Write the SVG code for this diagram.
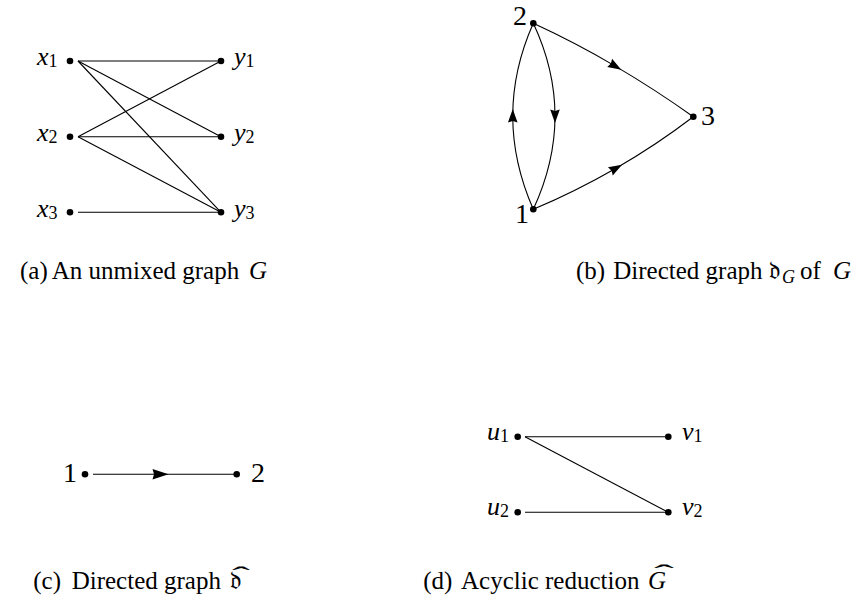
<svg xmlns="http://www.w3.org/2000/svg" width="867" height="601" viewBox="0 0 867 601">
<style>
  .edge { fill: none; stroke: #000; stroke-width: 1.1; }
  .dot { fill: #000; }
  .lbl { font-family: "Liberation Serif", "DejaVu Serif", serif; font-style: italic; font-size: 26px; fill: #000; }
  .sub { font-size: 18px; font-style: normal; }
  .num { font-family: "Liberation Serif", "DejaVu Serif", serif; font-size: 28px; fill: #000; }
  .cap { font-family: "Liberation Serif", "DejaVu Serif", "DejaVu Sans", serif; font-size: 25px; fill: #000; }
  .it { font-style: italic; }
  .hat { font-size: 24px; font-style: normal; }
</style>
<defs>
  <marker id="arr" markerUnits="userSpaceOnUse" viewBox="-8 -6 16 12" markerWidth="16" markerHeight="12" refX="0" refY="0" orient="auto">
    <path d="M-6.5,-4.8 L7,0 L-6.5,4.8 L-5,0 z" fill="#000"/>
  </marker>
  <marker id="arrc" markerUnits="userSpaceOnUse" viewBox="-9 -7 18 14" markerWidth="18" markerHeight="14" refX="0" refY="0" orient="auto">
    <path d="M-8,-5.3 L8,0 L-8,5.3 L-6.5,0 z" fill="#000"/>
  </marker>
</defs>

<!-- (a) unmixed graph G -->
<g id="edges-a">
  <path class="edge" d="M78,61 L221,61"/>
  <path class="edge" d="M78,61 L221,136.7"/>
  <path class="edge" d="M78,61 L221,212.3"/>
  <path class="edge" d="M78,136.7 L221,61"/>
  <path class="edge" d="M78,136.7 L221,136.7"/>
  <path class="edge" d="M78,136.7 L221,212.3"/>
  <path class="edge" d="M78,212.3 L221,212.3"/>
</g>
<g id="node-x1"><circle class="dot" cx="70" cy="61" r="3.3"/><text class="lbl" x="37" y="65">x<tspan class="sub" dy="2">1</tspan></text></g>
<g id="node-x2"><circle class="dot" cx="70" cy="136.7" r="3.3"/><text class="lbl" x="37" y="141">x<tspan class="sub" dy="2">2</tspan></text></g>
<g id="node-x3"><circle class="dot" cx="70" cy="212.3" r="3.3"/><text class="lbl" x="37" y="216.7">x<tspan class="sub" dy="2">3</tspan></text></g>
<g id="node-y1"><circle class="dot" cx="221" cy="61" r="3.3"/><text class="lbl" x="234" y="65">y<tspan class="sub" dy="2">1</tspan></text></g>
<g id="node-y2"><circle class="dot" cx="221" cy="136.7" r="3.3"/><text class="lbl" x="234" y="141">y<tspan class="sub" dy="2">2</tspan></text></g>
<g id="node-y3"><circle class="dot" cx="221" cy="212.3" r="3.3"/><text class="lbl" x="234" y="216.7">y<tspan class="sub" dy="2">3</tspan></text></g>

<!-- (b) directed graph -->
<g id="edges-b">
  <path class="edge" marker-mid="url(#arr)" d="M533.3,209.3 Q512.75,162.5 512.75,116 Q512.75,69.5 533.3,23.3"/>
  <path class="edge" marker-mid="url(#arr)" d="M533.3,23.3 Q555,69.5 555,116 Q555,162.5 533.3,209.3"/>
  <path class="edge" marker-mid="url(#arr)" d="M533.3,23.3 Q575.25,42.6 615.25,66.1 Q655.25,89.6 693.3,116.7"/>
  <path class="edge" marker-mid="url(#arr)" d="M533.3,209.3 Q576,191.2 616,168.2 Q656,145.2 693.3,116.7"/>
</g>
<g id="node-b2"><circle class="dot" cx="533.3" cy="23.3" r="3.3"/><text class="num" x="513" y="25">2</text></g>
<g id="node-b3"><circle class="dot" cx="693.3" cy="116.7" r="3.3"/><text class="num" x="701" y="125">3</text></g>
<g id="node-b1"><circle class="dot" cx="533.3" cy="209.3" r="3.3"/><text class="num" x="515" y="222.7">1</text></g>

<!-- (c) directed graph hat -->
<g id="edges-c">
  <path class="edge" marker-mid="url(#arrc)" d="M93,474.3 L160.5,474.3 L236.7,474.3"/>
</g>
<g id="node-c1"><circle class="dot" cx="85" cy="474.3" r="3.3"/><text class="num" x="63" y="481.7">1</text></g>
<g id="node-c2"><circle class="dot" cx="236.7" cy="474.3" r="3.3"/><text class="num" x="251" y="481.7">2</text></g>

<!-- (d) acyclic reduction -->
<g id="edges-d">
  <path class="edge" d="M525,436.7 L668.3,436.7"/>
  <path class="edge" d="M525,436.7 L668.3,512.3"/>
  <path class="edge" d="M525,512.3 L668.3,512.3"/>
</g>
<g id="node-u1"><circle class="dot" cx="517.7" cy="436.7" r="3.3"/><text class="lbl" x="487" y="439.5">u<tspan class="sub" dy="2">1</tspan></text></g>
<g id="node-u2"><circle class="dot" cx="517.7" cy="512.3" r="3.3"/><text class="lbl" x="487" y="515">u<tspan class="sub" dy="2">2</tspan></text></g>
<g id="node-v1"><circle class="dot" cx="668.3" cy="436.7" r="3.3"/><text class="lbl" x="682" y="439.5">v<tspan class="sub" dy="2">1</tspan></text></g>
<g id="node-v2"><circle class="dot" cx="668.3" cy="512.3" r="3.3"/><text class="lbl" x="682" y="515">v<tspan class="sub" dy="2">2</tspan></text></g>

<!-- captions -->
<g id="captions">
  <text class="cap" y="279"><tspan x="20">(a)</tspan><tspan x="51.7">An unmixed graph</tspan><tspan x="249" class="it">G</tspan></text>
  <text class="cap" y="279"><tspan x="576">(b)</tspan><tspan x="613.3">Directed graph</tspan><tspan x="769">𝔡</tspan><tspan class="it" font-size="18" x="782" dy="4">G</tspan><tspan x="800" dy="-4">of</tspan><tspan x="833" class="it">G</tspan></text>
  <text class="cap" y="589"><tspan x="33.3">(c)</tspan><tspan x="71.7">Directed graph</tspan><tspan x="230">𝔡</tspan><tspan class="hat" x="232" y="583" textLength="18" lengthAdjust="spacingAndGlyphs">ˆ</tspan></text>
  <text class="cap" y="589"><tspan x="423.3">(d)</tspan><tspan x="461">Acyclic reduction</tspan><tspan x="648" class="it">G</tspan><tspan class="hat" x="654" y="581" textLength="20" lengthAdjust="spacingAndGlyphs">ˆ</tspan></text>
</g>
</svg>
